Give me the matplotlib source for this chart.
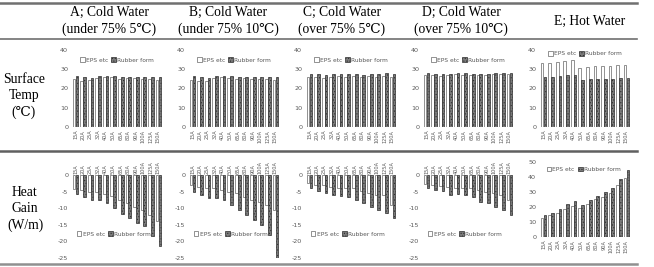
import numpy as np
import matplotlib
matplotlib.use('Agg')
import matplotlib.pyplot as plt

plt.rcParams['hatch.linewidth'] = 0.5
plt.rcParams['axes.unicode_minus'] = False

sizes = ['15A', '20A', '25A', '32A', '40A', '50A', '65A', '80A', '90A', '100A', '125A', '150A']

headers = ['A; Cold Water\n(under 75% 5\u2103)', 'B; Cold Water\n(under 75% 10\u2103)',
           'C; Cold Water\n(over 75% 5\u2103)', 'D; Cold Water\n(over 75% 10\u2103)', 'E; Hot Water']
row_labels = ['Surface\nTemp\n(\u2103)', 'Heat\nGain\n(W/m)']

# surface temperature (C)
temp_eps = {
    'A': [25, 24, 24.5, 25.5, 26, 26, 25, 25.5, 25.5, 25, 25, 24.5],
    'B': [24.5, 24, 24, 25.5, 26, 25.5, 25, 25.5, 25, 25, 25, 24.5],
    'C': [26, 26, 25.5, 26, 26.5, 26, 26.5, 26, 26.5, 26, 26.5, 26],
    'D': [27, 27, 26.5, 27, 27.5, 27, 27, 27, 27, 27.5, 27.5, 27.5],
    'E': [33, 33.5, 34, 34.5, 35, 30.5, 31, 31.5, 31.5, 31.5, 32, 32],
}
temp_rubber = {
    'A': [26.5, 26, 25.5, 26.5, 26.5, 26.5, 26, 26, 26, 26, 26, 26],
    'B': [26.5, 26, 25.5, 26.5, 26.5, 26.5, 26, 26, 26, 26, 26, 26],
    'C': [27.5, 27.5, 27, 27.5, 27.5, 27.5, 27.5, 27, 27.5, 27.5, 28, 27.5],
    'D': [28, 27.5, 27.5, 27.5, 28, 28, 27.5, 27.5, 27.5, 28, 28, 28],
    'E': [26, 26, 26.5, 27, 27, 24.5, 25, 25, 25, 25, 25.5, 25.5],
}

# heat gain (W/m)
gain_eps = {
    'A': [-4.3, -4.5, -5, -5, -5.8, -6.3, -7.5, -8.5, -9.5, -10.5, -12, -14],
    'B': [-3, -3.5, -4, -4, -4.5, -5, -5.5, -6.5, -7.5, -8, -9, -10.5],
    'C': [-2.5, -3, -3, -3.5, -4, -4, -4, -4.8, -5.5, -6, -6, -9],
    'D': [-2.8, -3, -3.2, -3.5, -3.8, -3.8, -4, -4.5, -5, -5.5, -6, -7.5],
    'E': [12.7, 14.4, 16.2, 18.9, 20.4, 19.3, 22.2, 25.1, 26.7, 29.6, 34.4, 39.3],
}
gain_rubber = {
    'A': [-5.8, -6.5, -7.5, -7.5, -8.3, -9.8, -11.8, -13, -14.5, -15.5, -18.5, -21.5],
    'B': [-5, -6, -7, -7, -7.5, -9, -10.5, -12, -13.5, -15, -18, -25],
    'C': [-4, -4.8, -5.5, -6, -6.3, -6.5, -7.5, -8.5, -9.5, -10.5, -11.5, -13],
    'D': [-3.8, -4.5, -4.8, -6, -5.8, -6, -6.5, -8, -8.5, -9.5, -10.5, -12],
    'E': [14.4, 16.2, 18.4, 21.8, 23.8, 21.1, 24.4, 27.3, 30, 32.9, 38.9, 44.4],
}

W, H = 654, 267
fig = plt.figure(figsize=(W / 100, H / 100), dpi=100)

def px(x0, y0, x1, y1):
    # pixel box -> figure fraction [left, bottom, width, height]
    return [x0 / W, 1 - y1 / H, (x1 - x0) / W, (y1 - y0) / H]

serif = ['Liberation Serif', 'DejaVu Serif']
tick_col = '#595959'

# table lines
for y, lw, c in [(3, 1.8, '#707070'), (38.5, 1.2, '#707070'), (151, 1.8, '#606060'), (264, 1.8, '#909090')]:
    fig.add_artist(plt.Line2D([0, 637 / W], [1 - y / H, 1 - y / H], color=c, lw=lw))

head_x = [109, 228, 342, 461, 590]
for i, h in enumerate(headers):
    fig.text(head_x[i] / W, 1 - 21 / H, h, ha='center', va='center', fontsize=9.8,
             family=serif, linespacing=1.3)

fig.text(24 / W, 1 - 96 / H, row_labels[0], ha='center', va='center', fontsize=9.8,
         family=serif, linespacing=1.3)
fig.text(25 / W, 1 - 209 / H, row_labels[1], ha='center', va='center', fontsize=9.8,
         family=serif, linespacing=1.3)

keys = ['A', 'B', 'C', 'D', 'E']
lefts = [71, 188, 305, 422, 539]
x = np.arange(len(sizes))
bw = 0.36
leg_kw = dict(ncol=2, frameon=False, fontsize=4.2, handlelength=0.8, handleheight=0.8,
              handletextpad=0.2, columnspacing=0.6, labelcolor=tick_col, borderpad=0)


def draw(ax, eps, rub):
    ax.bar(x - 0.19, eps, bw, color='white', edgecolor='#666666', lw=0.5, label='EPS etc')
    ax.bar(x + 0.19, rub, bw, color='#7a7a7a', edgecolor='#2e2e2e', lw=0.5,
           hatch='......', label='Rubber form')
    for s in ax.spines.values():
        s.set_visible(False)
    ax.set_xlim(-0.6, len(sizes) - 0.4)
    ax.tick_params(length=0, labelsize=4.6, colors=tick_col, pad=2)
    ax.set_xticks(x)
    ax.set_xticklabels(sizes, rotation=90, fontsize=3.6)


for i, k in enumerate(keys):
    # surface temperature row
    ax = fig.add_axes(px(lefts[i], 50, lefts[i] + 92, 127))
    draw(ax, temp_eps[k], temp_rubber[k])
    ax.set_ylim(0, 40)
    ax.set_yticks(range(0, 41, 10))
    ly = 0.95 if k == 'E' else 0.87
    ax.legend(loc='center', bbox_to_anchor=(0.5, ly), **leg_kw)

    # heat gain row
    if k != 'E':
        ax = fig.add_axes(px(lefts[i], 175, lefts[i] + 92, 258))
        draw(ax, gain_eps[k], gain_rubber[k])
        ax.set_ylim(-25, 0)
        ax.set_yticks(range(-25, 1, 5))
        ax.xaxis.tick_top()
        ax.tick_params(axis='x', pad=1)
        ax.legend(loc='center left', bbox_to_anchor=(0.03, 0.29), **leg_kw)
    else:
        ax = fig.add_axes(px(lefts[i], 162, lefts[i] + 92, 237))
        draw(ax, gain_eps[k], gain_rubber[k])
        ax.set_ylim(0, 50)
        ax.set_yticks(range(0, 51, 10))
        ax.legend(loc='center left', bbox_to_anchor=(0.05, 0.9), **leg_kw)

fig.savefig('out.png', dpi=100)
